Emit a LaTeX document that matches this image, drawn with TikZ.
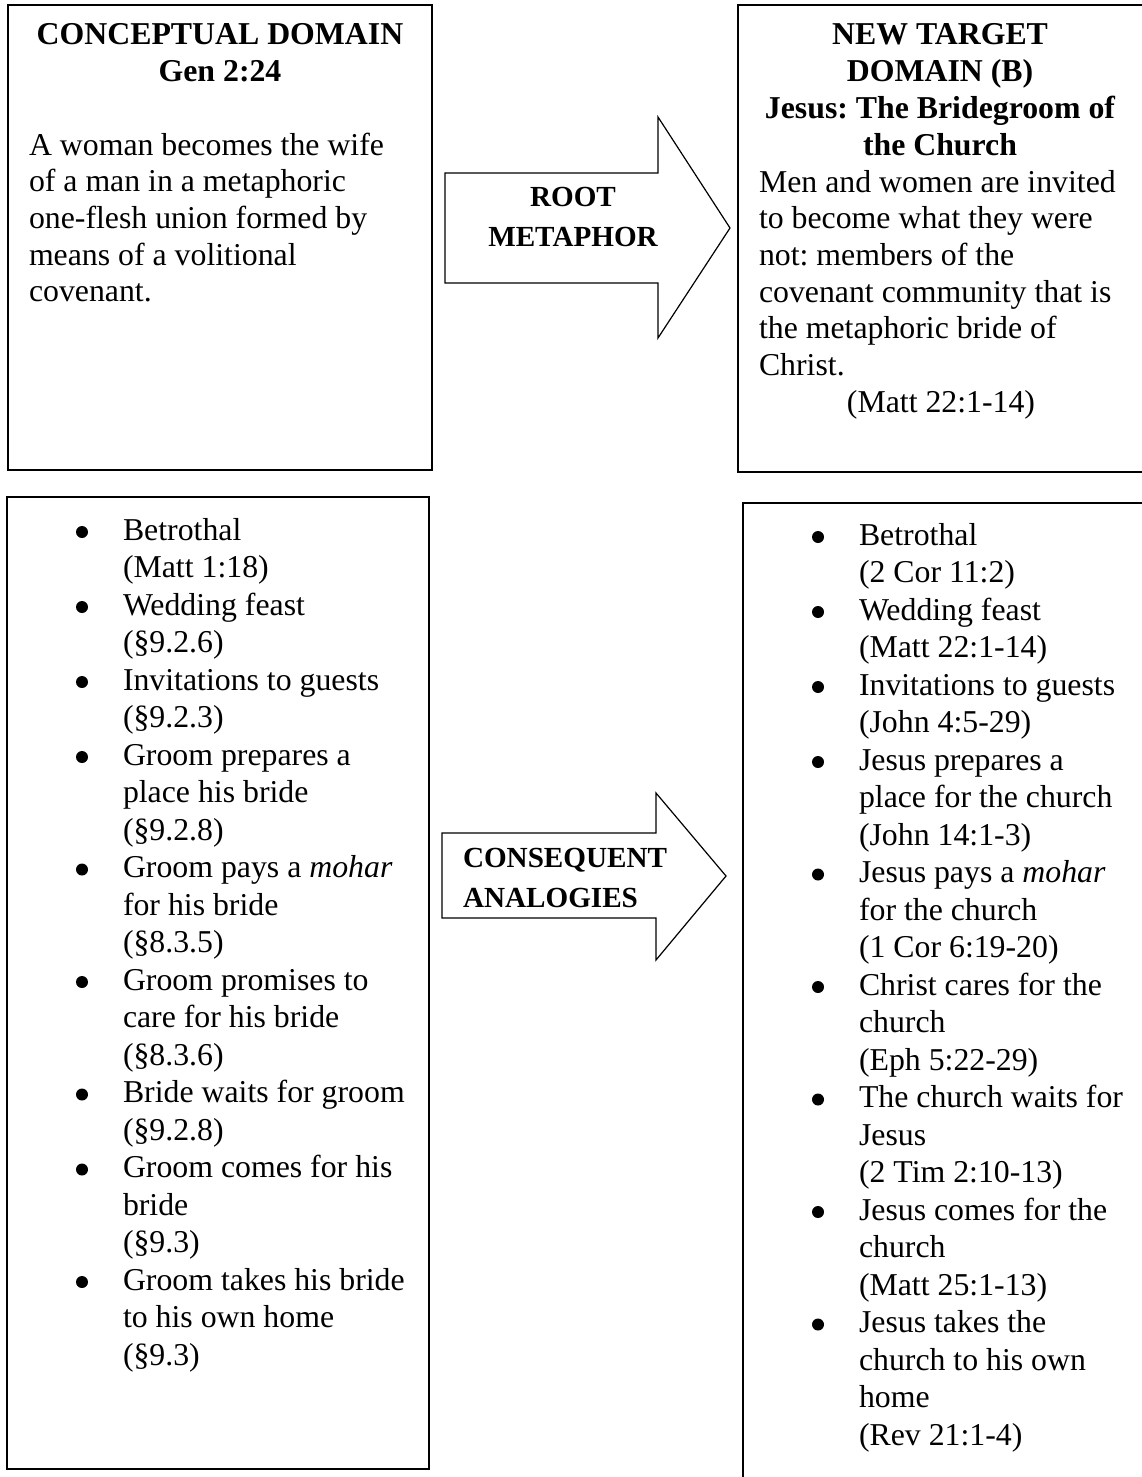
\documentclass[tikz,border=0pt]{standalone}
\usepackage{fontspec}
\setmainfont{Liberation Serif}
\frenchspacing
\newcommand\headsize{\fontsize{31.8}{36.7}\selectfont\bfseries}
\newcommand\bodysize{\fontsize{31.8}{36.7}\selectfont}
\newcommand\listsize{\fontsize{31.8}{37.5}\selectfont}
\newcommand\arrowsize{\fontsize{29.15}{40}\selectfont\bfseries}
% the ragged alignments widen word spaces; use a fixed quarter-em space instead
\newcommand\plainspaces{\spaceskip=0.25em\xspaceskip=0.25em\relax}
\tikzset{
  frame/.style={draw=black, line width=1.6pt},
  blockarrow/.style={draw=black, line width=1.2pt, line join=miter, fill=white},
  txt/.style={inner sep=0pt, outer sep=0pt, align=left},
  ctxt/.style={inner sep=0pt, outer sep=0pt, align=center},
  dot/.style={fill=black}
}
\begin{document}
\begin{tikzpicture}[x=1pt, y=-1pt]
\useasboundingbox (0,0) rectangle (1141,1477);
\fill[white] (0,0) rectangle (1141,1477);

% frames of the four panels (the right ones run off the page)
\draw[frame] (8,5) rectangle (432,470);
\draw[frame] (1150,5) -- (738,5) -- (738,472) -- (1150,472);
\draw[frame] (7,497) rectangle (429,1469);
\draw[frame] (1150,503) -- (743,503) -- (743,1485);

% block arrows
\draw[blockarrow] (445,173) -- (658,173) -- (658,117) -- (730,228) -- (658,338) -- (658,283) -- (445,283) -- cycle;
\draw[blockarrow] (442,833) -- (656,833) -- (656,793) -- (726,876) -- (656,960) -- (656,918) -- (442,918) -- cycle;

\node[ctxt, font=\arrowsize, text width=220pt, anchor=base] (root) at (573,206) {ROOT\\METAPHOR};
\node[txt, font=\arrowsize, text width=220pt, anchor=base west] (conseq) at (463,867) {CONSEQUENT\\ANALOGIES};

% upper left panel
\node[ctxt, font=\headsize, text width=410pt, anchor=base] (tlhead) at (220,45) {\plainspaces CONCEPTUAL DOMAIN\\Gen 2:24};
\node[txt, font=\bodysize, text width=395pt, anchor=base west] (tlbody) at (29,155)
  {\plainspaces A woman becomes the wife\\of a man in a metaphoric\\one-flesh union formed by\\means of a volitional\\covenant.};

% upper right panel
\node[ctxt, font=\headsize, text width=400pt, anchor=base] (trhead) at (940,45)
  {\plainspaces NEW TARGET\\DOMAIN (B)\\Jesus: The Bridegroom of\\the Church};
\node[txt, font=\bodysize, text width=400pt, anchor=base west] (trbody) at (759,192)
  {\plainspaces Men and women are invited\\to become what they were\\not: members of the\\covenant community that is\\the metaphoric bride of\\Christ.};
\node[ctxt, font=\bodysize, text width=300pt, anchor=base] (trref) at (941,412) {\plainspaces (Matt 22:1-14)};

% lower left list
\node[txt, font=\listsize, text width=320pt, anchor=base west] (bllist) at (123,540)
  {\plainspaces Betrothal\\(Matt 1:18)\\Wedding feast\\(§9.2.6)\\Invitations to guests\\(§9.2.3)\\
   Groom prepares a\\place his bride\\(§9.2.8)\\Groom pays a \textit{mohar}\\for his bride\\(§8.3.5)\\
   Groom promises to\\care for his bride\\(§8.3.6)\\Bride waits for groom\\(§9.2.8)\\
   Groom comes for his\\bride\\(§9.3)\\Groom takes his bride\\to his own home\\(§9.3)};
\foreach \i in {0,2,4,6,9,12,15,17,20}
  \fill[dot] (82,{540+37.5*\i-8}) circle (6pt);

% lower right list
\node[txt, font=\listsize, text width=320pt, anchor=base west] (brlist) at (859,545)
  {\plainspaces Betrothal\\(2 Cor 11:2)\\Wedding feast\\(Matt 22:1-14)\\Invitations to guests\\(John 4:5-29)\\
   Jesus prepares a\\place for the church\\(John 14:1-3)\\Jesus pays a \textit{mohar}\\for the church\\(1 Cor 6:19-20)\\
   Christ cares for the\\church\\(Eph 5:22-29)\\The church waits for\\Jesus\\(2 Tim 2:10-13)\\
   Jesus comes for the\\church\\(Matt 25:1-13)\\Jesus takes the\\church to his own\\home\\(Rev 21:1-4)};
\foreach \i in {0,2,4,6,9,12,15,18,21}
  \fill[dot] (818,{545+37.5*\i-8}) circle (6pt);
\end{tikzpicture}
\end{document}
